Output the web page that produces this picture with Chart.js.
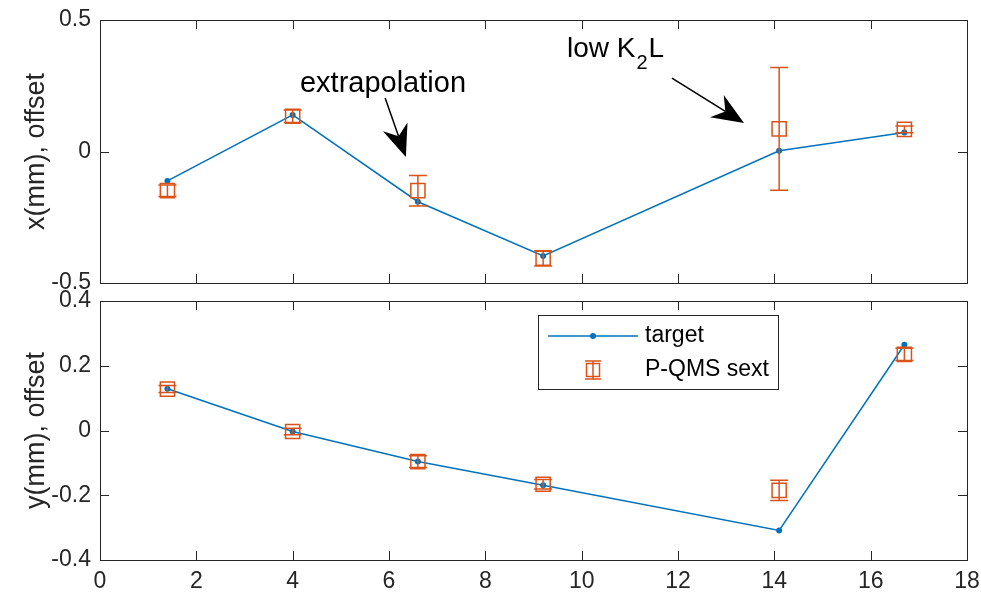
<!DOCTYPE html>
<html><head><meta charset="utf-8">
<script src="https://cdn.jsdelivr.net/npm/chart.js@4.4.1/dist/chart.umd.min.js"></script>
<style>
html,body{margin:0;padding:0;background:#fff;}
#wrap{position:relative;width:981px;height:597px;background:#fff;}
canvas{position:absolute;left:0;top:0;}
</style></head><body>
<div id="wrap"><canvas id="c1" width="981" height="597"></canvas><canvas id="c2" width="981" height="597"></canvas></div>
<script>
// ---- data ----
const positions = [1.4, 4.0, 6.6, 9.2, 14.1, 16.7];
const xTarget   = [-0.112, 0.139, -0.191, -0.397, 0.003, 0.072];
const xQms      = [-0.149, 0.134, -0.149, -0.406, 0.086, 0.084];
const xQmsErr   = [0.022, 0.024, 0.058, 0.029, 0.233, 0.013];
const yTarget   = [0.129, -0.003, -0.096, -0.169, -0.309, 0.265];
const yQms      = [0.128, -0.003, -0.096, -0.166, -0.185, 0.235];
const yQmsErr   = [0.011, 0.010, 0.018, 0.015, 0.031, 0.019];
const xTicks    = [0, 2, 4, 6, 8, 10, 12, 14, 16, 18];
const yTicksTop = [-0.5, 0, 0.5];
const yTicksBot = [-0.4, -0.2, 0, 0.2, 0.4];
const seriesNames = ['target', 'P-QMS sext'];
const axisTitles  = ['x(mm), offset', 'y(mm), offset'];
// annotations (data coordinates of top panel)
const annoTexts  = [{text: 'extrapolation', x: 5.875, y: 0.226}];
const annoArrows = [{x0: 5.92, y0: 0.203, x1: 6.35, y1: -0.021}, {x0: 11.875, y0: 0.279, x1: 13.37, y1: 0.108}];
const lowK2L     = {x: 9.695, y: 0.358};

const BLUE = 'rgb(0,114,189)';
const ORANGE = 'rgb(217,83,25)';
const AX = '#262626';
const FONT = "'Liberation Sans', Arial, Helvetica, sans-serif";

function pts(xs, ys){ return xs.map((v,i)=>({x:v, y:ys[i]})); }

function framePlugin(yTickVals){
  return {id:'frame', afterDraw(chart){
    const {ctx, chartArea:a, scales:{x, y}} = chart;
    ctx.save(); ctx.strokeStyle = AX; ctx.lineWidth = 1;
    ctx.beginPath();
    xTicks.forEach(v=>{ const px = Math.round(x.getPixelForValue(v))+0.5;
      ctx.moveTo(px, a.bottom); ctx.lineTo(px, a.bottom-9);
      ctx.moveTo(px, a.top); ctx.lineTo(px, a.top+9); });
    yTickVals.forEach(v=>{ const py = Math.round(y.getPixelForValue(v))+0.5;
      ctx.moveTo(a.left, py); ctx.lineTo(a.left+9, py);
      ctx.moveTo(a.right, py); ctx.lineTo(a.right-9, py); });
    ctx.stroke();
    ctx.strokeRect(Math.round(a.left)+0.5, Math.round(a.top)+0.5, Math.round(a.right-a.left), Math.round(a.bottom-a.top));
    ctx.restore();
  }};
}
function errPlugin(vals, errs){
  return {id:'err', afterDatasetsDraw(chart){
    const {ctx, scales:{x, y}} = chart;
    ctx.save(); ctx.strokeStyle = ORANGE; ctx.lineWidth = 1.5; ctx.beginPath();
    positions.forEach((p,i)=>{
      const px = x.getPixelForValue(p);
      const y1 = y.getPixelForValue(vals[i]+errs[i]);
      const y2 = y.getPixelForValue(vals[i]-errs[i]);
      ctx.moveTo(px, y1); ctx.lineTo(px, y2);
      ctx.moveTo(px-9, y1); ctx.lineTo(px+9, y1);
      ctx.moveTo(px-9, y2); ctx.lineTo(px+9, y2);
    });
    ctx.stroke(); ctx.restore();
  }};
}
function drawArrow(ctx, x0, y0, x1, y1){
  const L = 32, hw = 13, notch = 22;
  const dx = x1-x0, dy = y1-y0, len = Math.hypot(dx,dy), ux = dx/len, uy = dy/len, nx = -uy, ny = ux;
  ctx.beginPath(); ctx.moveTo(x0,y0); ctx.lineTo(x1-ux*notch, y1-uy*notch); ctx.lineWidth = 1.5; ctx.stroke();
  ctx.beginPath(); ctx.moveTo(x1,y1);
  ctx.lineTo(x1-ux*L+nx*hw, y1-uy*L+ny*hw);
  ctx.lineTo(x1-ux*notch, y1-uy*notch);
  ctx.lineTo(x1-ux*L-nx*hw, y1-uy*L-ny*hw);
  ctx.closePath(); ctx.fill();
}
const annoPlugin = {id:'anno', afterDraw(chart){
  const {ctx, scales:{x, y}} = chart;
  ctx.save(); ctx.fillStyle = '#000'; ctx.strokeStyle = '#000';
  ctx.font = '29px ' + FONT; ctx.textBaseline = 'alphabetic';
  annoTexts.forEach(t=>{ ctx.textAlign = 'center'; ctx.fillText(t.text, x.getPixelForValue(t.x), y.getPixelForValue(t.y)); });
  // low K2L with subscript
  let px = x.getPixelForValue(lowK2L.x), py = y.getPixelForValue(lowK2L.y);
  ctx.textAlign = 'left';
  ctx.font = '28px ' + FONT; ctx.fillText('low K', px, py); px += ctx.measureText('low K').width;
  ctx.font = '20px ' + FONT; ctx.fillText('2', px+1, py+12); px += ctx.measureText('2').width + 2;
  ctx.font = '28px ' + FONT; ctx.fillText('L', px, py);
  annoArrows.forEach(a=>drawArrow(ctx, x.getPixelForValue(a.x0), y.getPixelForValue(a.y0), x.getPixelForValue(a.x1), y.getPixelForValue(a.y1)));
  ctx.restore();
}};
const legendPlugin = {id:'leg', afterDraw(chart){
  const {ctx, chartArea:a} = chart;
  const bx = Math.round(a.left)+438, by = Math.round(a.top)+14, bw = 240, bh = 74;
  ctx.save();
  ctx.fillStyle = '#fff'; ctx.fillRect(bx, by, bw, bh);
  ctx.strokeStyle = AX; ctx.lineWidth = 1; ctx.strokeRect(bx+0.5, by+0.5, bw, bh);
  const r1 = by+21, r2 = by+55, cx = bx+55;
  ctx.strokeStyle = BLUE; ctx.lineWidth = 1.5;
  ctx.beginPath(); ctx.moveTo(bx+10, r1); ctx.lineTo(bx+100, r1); ctx.stroke();
  ctx.fillStyle = BLUE; ctx.beginPath(); ctx.arc(cx, r1, 3, 0, Math.PI*2); ctx.fill();
  ctx.strokeStyle = ORANGE; ctx.lineWidth = 1.5;
  ctx.beginPath(); ctx.moveTo(cx, r2-9); ctx.lineTo(cx, r2+9);
  ctx.moveTo(cx-8, r2-9); ctx.lineTo(cx+8, r2-9); ctx.moveTo(cx-8, r2+9); ctx.lineTo(cx+8, r2+9); ctx.stroke();
  ctx.strokeRect(cx-6.5, r2-6.5, 13, 13);
  ctx.fillStyle = '#000'; ctx.font = '23px ' + FONT; ctx.textAlign = 'left'; ctx.textBaseline = 'middle';
  ctx.fillText(seriesNames[0], bx+107, r1);
  ctx.fillText(seriesNames[1], bx+107, r2);
  ctx.restore();
}};

function makeChart(id, tgt, qms, err, yTicks, title, showX, padding, extraPlugins){
  return new Chart(document.getElementById(id), {
    data: {datasets: [
      {type:'line', label: seriesNames[1], data: pts(positions, qms), showLine:false, order:0,
       pointStyle:'rect', pointRadius:10, pointBorderWidth:1.5, borderColor:ORANGE, pointBorderColor:ORANGE, pointBackgroundColor:'rgba(0,0,0,0)'},
      {type:'line', label: seriesNames[0], data: pts(positions, tgt), order:1,
       borderColor:BLUE, borderWidth:1.5, pointRadius:3, pointBorderWidth:0, pointBackgroundColor:BLUE, pointBorderColor:BLUE, tension:0}
    ]},
    options: {
      responsive:false, animation:false, devicePixelRatio:1,
      layout:{padding: padding},
      plugins:{legend:{display:false}, tooltip:{enabled:false}},
      scales:{
        x:{type:'linear', min:0, max:18,
           afterBuildTicks: s=>{ s.ticks = xTicks.map(v=>({value:v})); },
           afterFit: s=>{ s.height = showX ? 37 : 0; s.paddingLeft = 0; s.paddingRight = 0; },
           grid:{display:false, drawTicks:false}, border:{display:false},
           ticks:{display:showX, autoSkip:false, maxRotation:0, padding:8, color:AX, font:{family:FONT, size:23}, callback: v=>String(v)}},
        y:{type:'linear', min:yTicks[0], max:yTicks[yTicks.length-1],
           afterBuildTicks: s=>{ s.ticks = yTicks.map(v=>({value:v})); },
           afterFit: s=>{ s.width = 100; s.paddingTop = 0; s.paddingBottom = 0; },
           grid:{display:false, drawTicks:false}, border:{display:false},
           ticks:{autoSkip:false, padding:9, color:AX, font:{family:FONT, size:23}, callback: v=>String(v)},
           title:{display:true, text:title, color:AX, font:{family:FONT, size:27}, padding:{top:20, bottom:0}}}
      }
    },
    plugins:[errPlugin(qms, err), framePlugin(yTicks)].concat(extraPlugins)
  });
}
makeChart('c1', xTarget, xQms, xQmsErr, yTicksTop, axisTitles[0], false, {top:20, bottom:314, left:0, right:14}, [annoPlugin]);
makeChart('c2', yTarget, yQms, yQmsErr, yTicksBot, axisTitles[1], true, {top:301, bottom:0, left:0, right:14}, [legendPlugin]);
</script>
</body></html>
